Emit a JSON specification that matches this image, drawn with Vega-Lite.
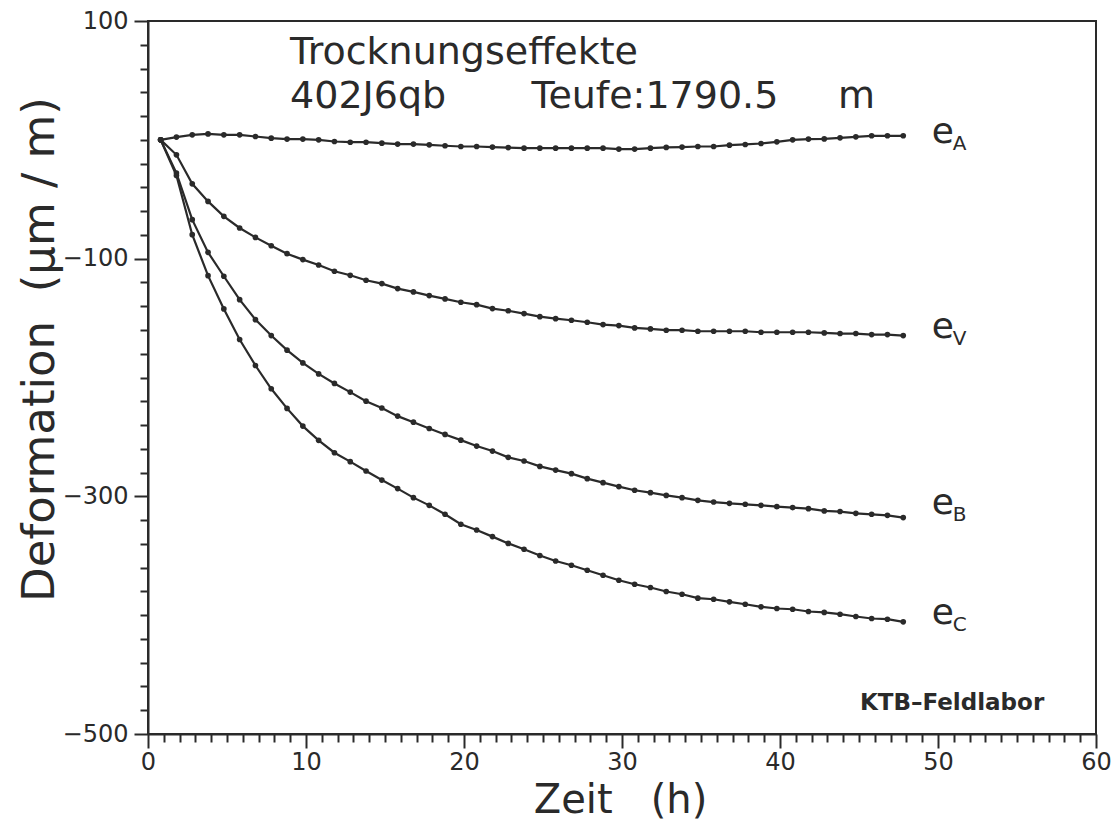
{
  "$schema": "https://vega.github.io/schema/vega-lite/v6.json",
  "width": 948,
  "height": 713,
  "autosize": {"type": "none"},
  "padding": {"left": 148, "top": 21, "right": 20, "bottom": 88},
  "background": "white",
  "config": {"view": {"stroke": "#2a2a2a", "strokeWidth": 2}, "font": "DejaVu Sans"},
  "datasets": {
    "series": [
      {"t": 0.8, "A": 0, "V": 0, "B": 0, "C": 0},
      {"t": 1.8, "A": 2.3, "V": -12.6, "B": -28, "C": -30},
      {"t": 2.8, "A": 4.2, "V": -37, "B": -67.2, "C": -79.8},
      {"t": 3.8, "A": 5.0, "V": -51.8, "B": -94.7, "C": -114.3},
      {"t": 4.8, "A": 4.2, "V": -64.4, "B": -114.8, "C": -142.3},
      {"t": 5.8, "A": 4.2, "V": -74.2, "B": -134.5, "C": -168},
      {"t": 6.8, "A": 2.8, "V": -82.1, "B": -151.3, "C": -189.9},
      {"t": 7.8, "A": 1.4, "V": -89.1, "B": -164.7, "C": -209.5},
      {"t": 8.8, "A": 0.6, "V": -95.8, "B": -177, "C": -226},
      {"t": 9.8, "A": 0.6, "V": -100.8, "B": -187.7, "C": -240.9},
      {"t": 10.8, "A": 0, "V": -105.3, "B": -197, "C": -252.9},
      {"t": 11.8, "A": -1.4, "V": -110.6, "B": -205, "C": -263.3},
      {"t": 12.8, "A": -2.0, "V": -114, "B": -212.3, "C": -270.8},
      {"t": 13.8, "A": -2.0, "V": -118.2, "B": -219.9, "C": -278.7},
      {"t": 14.8, "A": -2.8, "V": -121, "B": -225.7, "C": -286.3},
      {"t": 15.8, "A": -3.6, "V": -125.2, "B": -232.5, "C": -293.5},
      {"t": 16.8, "A": -3.6, "V": -128, "B": -237.6, "C": -301.1},
      {"t": 17.8, "A": -4.2, "V": -131.1, "B": -242.9, "C": -307.6},
      {"t": 18.8, "A": -5.0, "V": -133.9, "B": -247.9, "C": -315.1},
      {"t": 19.8, "A": -5.6, "V": -136.7, "B": -252.7, "C": -323.5},
      {"t": 20.8, "A": -5.6, "V": -138.7, "B": -257.7, "C": -328.3},
      {"t": 21.8, "A": -6.1, "V": -142, "B": -261.9, "C": -333.9},
      {"t": 22.8, "A": -6.5, "V": -143.8, "B": -267.2, "C": -339.6},
      {"t": 23.8, "A": -7.0, "V": -146.2, "B": -270.3, "C": -344.5},
      {"t": 24.8, "A": -7.0, "V": -148.8, "B": -274.8, "C": -349.8},
      {"t": 25.8, "A": -7.0, "V": -150.5, "B": -277.9, "C": -354.4},
      {"t": 26.8, "A": -7.0, "V": -151.8, "B": -280.9, "C": -358},
      {"t": 27.8, "A": -7.0, "V": -153.5, "B": -285.1, "C": -362.2},
      {"t": 28.8, "A": -7.0, "V": -155.5, "B": -288.5, "C": -366.4},
      {"t": 29.8, "A": -7.8, "V": -156.3, "B": -291.8, "C": -370.6},
      {"t": 30.8, "A": -7.8, "V": -158.3, "B": -294.9, "C": -374},
      {"t": 31.8, "A": -7.0, "V": -159.1, "B": -296.9, "C": -376.7},
      {"t": 32.8, "A": -6.4, "V": -160.2, "B": -299.2, "C": -380.1},
      {"t": 33.8, "A": -6.1, "V": -160.2, "B": -301.1, "C": -382.4},
      {"t": 34.8, "A": -5.6, "V": -161.1, "B": -303.4, "C": -385.7},
      {"t": 35.8, "A": -5.6, "V": -161.1, "B": -304.8, "C": -386.6},
      {"t": 36.8, "A": -4.5, "V": -161.1, "B": -305.9, "C": -388.8},
      {"t": 37.8, "A": -3.9, "V": -161.1, "B": -306.7, "C": -390.8},
      {"t": 38.8, "A": -3.1, "V": -161.9, "B": -307.6, "C": -393},
      {"t": 39.8, "A": -1.7, "V": -161.9, "B": -308.7, "C": -394.4},
      {"t": 40.8, "A": 0, "V": -161.9, "B": -309.5, "C": -395},
      {"t": 41.8, "A": 0.6, "V": -161.9, "B": -310.4, "C": -396.9},
      {"t": 42.8, "A": 0.8, "V": -162.5, "B": -312.3, "C": -397.7},
      {"t": 43.8, "A": 1.7, "V": -163, "B": -312.8, "C": -399.2},
      {"t": 44.8, "A": 2.5, "V": -163, "B": -314.3, "C": -401.1},
      {"t": 45.8, "A": 3.4, "V": -163.9, "B": -315.1, "C": -402.8},
      {"t": 46.8, "A": 3.4, "V": -163.9, "B": -316, "C": -403.4},
      {"t": 47.8, "A": 3.4, "V": -164.7, "B": -317.9, "C": -405.6}
    ],
    "labels": [
      {"s": "A", "t": 49.6, "v": -2.5},
      {"s": "V", "t": 49.6, "v": -166.4},
      {"s": "B", "t": 49.6, "v": -315.1},
      {"s": "C", "t": 49.6, "v": -407.6}
    ],
    "notes": [
      {"label": "Trocknungseffekte", "t": 8.99, "v": 63.8},
      {"label": "402J6qb", "t": 8.99, "v": 26.8},
      {"label": "Teufe:1790.5", "t": 24.28, "v": 26.8},
      {"label": "m", "t": 43.67, "v": 26.8}
    ],
    "footer": [
      {"label": "KTB\u2013Feldlabor", "t": 45.06, "v": -479.8}
    ]
  },
  "encoding": {
    "x": {
      "field": "t",
      "type": "quantitative",
      "scale": {"domain": [0, 60], "nice": false, "zero": false},
      "axis": {
        "values": [0,1,2,3,4,5,6,7,8,9,10,11,12,13,14,15,16,17,18,19,20,21,22,23,24,25,26,27,28,29,30,31,32,33,34,35,36,37,38,39,40,41,42,43,44,45,46,47,48,49,50,51,52,53,54,55,56,57,58,59,60],
        "labelExpr": "datum.value % 10 === 0 ? datum.label : ''",
        "tickSize": {"condition": {"test": "datum.value % 10 === 0", "value": 14}, "value": 8},
        "tickColor": "#2a2a2a",
        "tickWidth": 2,
        "domainColor": "#2a2a2a",
        "domainWidth": 2,
        "grid": false,
        "labelFont": "DejaVu Sans",
        "labelFontSize": 24,
        "labelColor": "#2a2a2a",
        "labelPadding": 2,
        "labelFlush": false,
        "labelOverlap": false,
        "labelBound": false,
        "title": "Zeit\u00a0\u00a0\u00a0(h)",
        "titleFont": "DejaVu Sans",
        "titleFontSize": 40,
        "titleFontWeight": "normal",
        "titleColor": "#2a2a2a",
        "titleX": 472,
        "titleY": 78,
        "titleBaseline": "alphabetic",
        "titleAlign": "center"
      }
    },
    "y": {
      "field": "v",
      "type": "quantitative",
      "scale": {"domain": [-500, 100], "nice": false, "zero": false},
      "axis": {
        "values": [-500,-480,-460,-440,-420,-400,-380,-360,-340,-320,-300,-280,-260,-240,-220,-200,-180,-160,-140,-120,-100,-80,-60,-40,-20,0,20,40,60,80,100],
        "labelExpr": "(datum.value + 500) % 200 === 0 ? datum.label : ''",
        "tickSize": {"condition": {"test": "(datum.value + 500) % 200 === 0", "value": 14}, "value": 8},
        "tickColor": "#2a2a2a",
        "tickWidth": 2,
        "domainColor": "#2a2a2a",
        "domainWidth": 2,
        "grid": false,
        "labelFont": "DejaVu Sans",
        "labelFontSize": 24,
        "labelColor": "#2a2a2a",
        "labelPadding": 6,
        "labelFlush": false,
        "labelOverlap": false,
        "labelBound": false,
        "title": "Deformation\u00a0\u00a0(\u03bcm\u00a0/\u00a0m)",
        "titleFont": "DejaVu Sans",
        "titleFontSize": 45,
        "titleFontWeight": "normal",
        "titleColor": "#2a2a2a",
        "titleX": -95,
        "titleY": 328,
        "titleAngle": 270,
        "titleBaseline": "alphabetic",
        "titleAlign": "center"
      }
    }
  },
  "layer": [
    {
      "data": {"name": "series"},
      "transform": [{"fold": ["A", "V", "B", "C"], "as": ["s", "v"]}],
      "mark": {"type": "line", "color": "#2a2a2a", "strokeWidth": 2.2},
      "encoding": {"detail": {"field": "s", "type": "nominal"}}
    },
    {
      "data": {"name": "series"},
      "transform": [{"fold": ["A", "V", "B", "C"], "as": ["s", "v"]}],
      "mark": {"type": "point", "filled": true, "size": 32, "color": "#2a2a2a", "opacity": 1},
      "encoding": {"detail": {"field": "s", "type": "nominal"}}
    },
    {
      "data": {"name": "labels"},
      "mark": {"type": "text", "text": "e", "font": "DejaVu Sans", "fontSize": 36, "align": "left", "baseline": "alphabetic", "color": "#2a2a2a"}
    },
    {
      "data": {"name": "labels"},
      "mark": {"type": "text", "font": "DejaVu Sans", "fontSize": 20, "align": "left", "baseline": "alphabetic", "dx": 21, "dy": 7, "color": "#2a2a2a"},
      "encoding": {"text": {"field": "s", "type": "nominal"}}
    },
    {
      "data": {"name": "notes"},
      "mark": {"type": "text", "font": "DejaVu Sans", "fontSize": 38, "align": "left", "baseline": "alphabetic", "color": "#2a2a2a"},
      "encoding": {"text": {"field": "label", "type": "nominal"}}
    },
    {
      "data": {"name": "footer"},
      "mark": {"type": "text", "font": "DejaVu Sans", "fontSize": 23, "fontWeight": "bold", "align": "left", "baseline": "alphabetic", "color": "#2a2a2a"},
      "encoding": {"text": {"field": "label", "type": "nominal"}}
    }
  ]
}
